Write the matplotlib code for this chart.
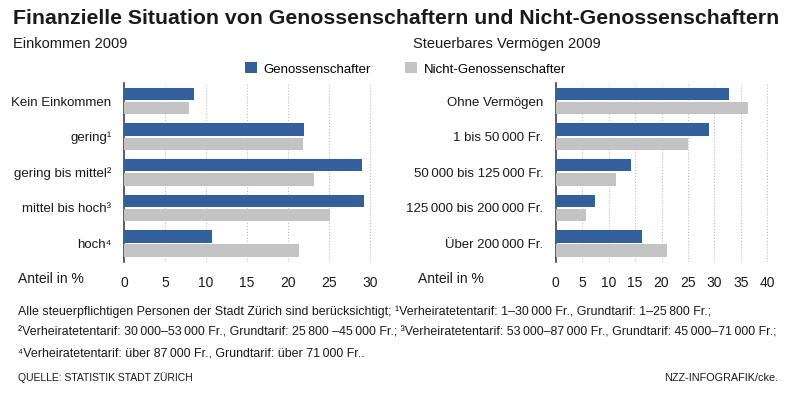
import matplotlib

matplotlib.use("Agg")
import matplotlib.pyplot as plt
import numpy as np

FONT = ["Liberation Sans", "DejaVu Sans"]
plt.rcParams["font.family"] = FONT

BLUE = "#33609b"
GRAY = "#c3c3c3"
TEXT = "#1a1a1a"

series_names = ["Genossenschafter", "Nicht-Genossenschafter"]

income_labels = ["Kein Einkommen", "gering\u00b9", "gering bis mittel\u00b2",
                 "mittel bis hoch\u00b3", "hoch\u2074"]
income_genoss = [8.5, 22.0, 29.1, 29.3, 10.7]
income_nicht = [7.9, 21.8, 23.2, 25.2, 21.3]
income_ticks = [0, 5, 10, 15, 20, 25, 30]

wealth_labels = ["Ohne Vermögen", "1 bis 50\u2009000 Fr.", "50\u2009000 bis 125\u2009000 Fr.",
                 "125\u2009000 bis 200\u2009000 Fr.", "Über 200\u2009000 Fr."]
wealth_genoss = [32.8, 28.9, 14.3, 7.4, 16.3]
wealth_nicht = [36.3, 25.0, 11.3, 5.8, 21.1]
wealth_ticks = [0, 5, 10, 15, 20, 25, 30, 35, 40]

LABEL_SIZE = 9.5


def draw_panel(ax, labels, genoss, nicht, ticks, xmax):
    pos = np.arange(len(labels))
    b1 = ax.barh(pos - 0.2, genoss, height=0.35, color=BLUE, zorder=3)
    b2 = ax.barh(pos + 0.2, nicht, height=0.35, color=GRAY, zorder=3)
    ax.set_ylim(len(labels) - 0.48, -0.51)
    ax.set_xlim(0, xmax)
    ax.set_yticks(pos)
    ax.set_yticklabels(labels, fontsize=LABEL_SIZE, color=TEXT)
    ax.set_xticks(ticks)
    ax.set_xticklabels([str(t) for t in ticks], fontsize=LABEL_SIZE + 0.5, color=TEXT)
    ax.tick_params(length=0, pad=10)
    ax.tick_params(axis="y", pad=9)
    for side in ["top", "right", "bottom"]:
        ax.spines[side].set_visible(False)
    ax.spines["left"].set_color("#444444")
    ax.spines["left"].set_linewidth(1.2)
    ax.grid(axis="x", linestyle=":", color="#bbbbbb", linewidth=0.8, zorder=0)
    ax.set_axisbelow(True)
    return b1, b2


fig = plt.figure(figsize=(7.9, 3.94), dpi=100)
ax_l = fig.add_axes([124 / 790, 1 - 262 / 394, 254 / 790, 179 / 394])
ax_r = fig.add_axes([555.7 / 790, 1 - 262 / 394, 217 / 790, 179 / 394])

h1, h2 = draw_panel(ax_l, income_labels, income_genoss, income_nicht, income_ticks, 31)
draw_panel(ax_r, wealth_labels, wealth_genoss, wealth_nicht, wealth_ticks, 41)

fig.text(13 / 790, 1 - 19 / 394, "Finanzielle Situation von Genossenschaftern und Nicht-Genossenschaftern",
         fontsize=15.3, fontweight="bold", color=TEXT, va="center")
fig.text(13 / 790, 1 - 44 / 394, "Einkommen 2009", fontsize=10.5, color=TEXT, va="center")
fig.text(413 / 790, 1 - 44 / 394, "Steuerbares Vermögen 2009", fontsize=10.5, color=TEXT, va="center")

for x in [18, 418]:
    fig.text(x / 790, 1 - 279 / 394, "Anteil in %", fontsize=LABEL_SIZE + 0.5, color=TEXT, va="center")

fig.legend([h1, h2], series_names, loc="center left", bbox_to_anchor=(245 / 790, 1 - 69 / 394),
           ncol=2, frameon=False, fontsize=LABEL_SIZE, handlelength=0.9, handleheight=0.9,
           handletextpad=0.5, columnspacing=2.6, borderaxespad=0, borderpad=0)

notes = [
    "Alle steuerpflichtigen Personen der Stadt Zürich sind berücksichtigt; \u00b9Verheiratetentarif: 1–30\u2009000 Fr., Grundtarif: 1–25\u2009800 Fr.;",
    "\u00b2Verheiratetentarif: 30\u2009000–53\u2009000 Fr., Grundtarif: 25\u2009800 –45\u2009000 Fr.; \u00b3Verheiratetentarif: 53\u2009000–87\u2009000 Fr., Grundtarif: 45\u2009000–71\u2009000 Fr.;",
    "\u2074Verheiratetentarif: über 87\u2009000 Fr., Grundtarif: über 71\u2009000 Fr..",
]
for i, line in enumerate(notes):
    fig.text(18 / 790, 1 - (312 + 20.5 * i) / 394, line, fontsize=8.9, color=TEXT, va="center")

fig.text(18 / 790, 1 - 378 / 394, "QUELLE: STATISTIK STADT ZÜRICH", fontsize=7.5, color=TEXT, va="center")
fig.text(778 / 790, 1 - 378 / 394, "NZZ-INFOGRAFIK/cke.", fontsize=7.8, color=TEXT, va="center", ha="right")

fig.savefig("out.png", dpi=100, facecolor="white")
